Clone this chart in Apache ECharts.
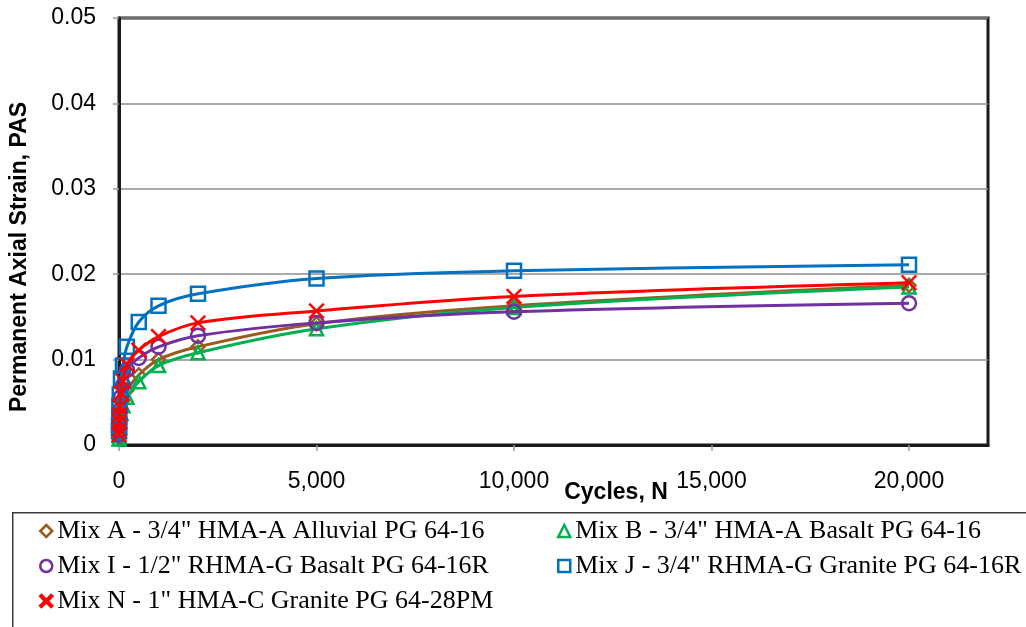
<!DOCTYPE html>
<html>
<head>
<meta charset="utf-8">
<title>Permanent Axial Strain vs Cycles</title>
<script src="https://cdn.jsdelivr.net/npm/echarts@6/dist/echarts.min.js"></script>
<style>
  html, body { margin: 0; padding: 0; background: #ffffff; }
  #chart { width: 1026px; height: 627px; }
</style>
</head>
<body>
<div id="chart"></div>
<script>
// Load cycles N and permanent axial strain for each mix
const cycles = [1, 2, 5, 10, 20, 50, 100, 200, 500, 1000, 2000, 5000, 10000, 20000];
const mixA = [0.0008, 0.0012, 0.0018, 0.0024, 0.0031, 0.0042, 0.0052, 0.0064, 0.0082, 0.0100, 0.0115, 0.0142, 0.0163, 0.0187];
const mixB = [0.0007, 0.0011, 0.0016, 0.0021, 0.0028, 0.0037, 0.0046, 0.0056, 0.0074, 0.0093, 0.0108, 0.0136, 0.0161, 0.0185];
const mixI = [0.0012, 0.0017, 0.0025, 0.0032, 0.0041, 0.0056, 0.0070, 0.0088, 0.0102, 0.0115, 0.0128, 0.0143, 0.0156, 0.0166];
const mixJ = [0.0016, 0.0023, 0.0035, 0.0046, 0.0059, 0.0078, 0.0093, 0.0115, 0.0144, 0.0163, 0.0177, 0.0195, 0.0204, 0.0211];
const mixN = [0.0012, 0.0018, 0.0027, 0.0035, 0.0045, 0.0061, 0.0075, 0.0094, 0.0111, 0.0127, 0.0143, 0.0157, 0.0174, 0.0190];

const seriesNames = [
  'Mix A - 3/4" HMA-A Alluvial PG 64-16',
  'Mix B - 3/4" HMA-A Basalt PG 64-16',
  'Mix I - 1/2" RHMA-G Basalt PG 64-16R',
  'Mix J - 3/4" RHMA-G Granite PG 64-16R',
  'Mix N - 1" HMA-C Granite PG 64-28PM'
];
const yTicks = [0, 0.01, 0.02, 0.03, 0.04, 0.05];
const xTicks = [0, 5000, 10000, 15000, 20000];

// thin-armed cross marker
const xMark = 'path://M1,0 L5,4 L9,0 L10,1 L6,5 L10,9 L9,10 L5,6 L1,10 L0,9 L4,5 L0,1 Z';

const styles = [
  { color: '#9E5A1E', symbol: 'diamond', size: 13, hollow: true },
  { color: '#00B050', symbol: 'triangle', size: 13, hollow: true },
  { color: '#7030A0', symbol: 'circle', size: 14, hollow: true },
  { color: '#0070C0', symbol: 'rect', size: 14, hollow: true },
  { color: '#FF0000', symbol: xMark, size: 16, hollow: false }
];
const values = [mixA, mixB, mixI, mixJ, mixN];

const pairs = v => cycles.map((c, i) => [c, v[i]]);

const series = values.map((v, k) => {
  const s = styles[k];
  return {
    name: seriesNames[k],
    type: 'line',
    data: pairs(v),
    smooth: 0.35,
    symbol: s.symbol,
    symbolSize: s.size,
    showAllSymbol: true,
    lineStyle: { color: s.color, width: 3 },
    itemStyle: s.hollow
      ? { color: 'rgba(255,255,255,0)', borderColor: s.color, borderWidth: 2.5 }
      : { color: s.color, borderColor: s.color, borderWidth: 0.3 },
    emphasis: { disabled: true },
    z: 2 + k
  };
});

const legendText = {
  fontFamily: '"Liberation Serif", "Times New Roman", serif',
  fontSize: 26,
  lineHeight: 26,
  color: '#000'
};
const legendItem = k => ({ name: seriesNames[k], icon: styles[k].symbol });

const chart = echarts.init(document.getElementById('chart'), null, { renderer: 'canvas' });
chart.setOption({
  animation: false,
  backgroundColor: '#ffffff',
  grid: {
    left: 119, right: 38, top: 18, bottom: 182,
    show: true, borderColor: '#1a1a1a', borderWidth: 3, backgroundColor: 'transparent'
  },
  xAxis: {
    type: 'value',
    min: 0, max: 22000, interval: 5000,
    axisLine: { show: true, lineStyle: { color: '#1a1a1a', width: 3 } },
    axisTick: { show: true, inside: false, length: 6, lineStyle: { color: '#999', width: 1.5 } },
    splitLine: { show: false },
    axisLabel: {
      margin: 25,
      fontFamily: '"Liberation Sans", Arial, sans-serif',
      fontSize: 23,
      color: '#000',
      showMaxLabel: false,
      formatter: val => xTicks.includes(val) ? val.toLocaleString('en-US') : ''
    }
  },
  yAxis: {
    type: 'value',
    min: 0, max: 0.05, interval: 0.01,
    axisLine: { show: true, lineStyle: { color: '#1a1a1a', width: 3 } },
    axisTick: { show: true, inside: false, length: 6, lineStyle: { color: '#999', width: 1.5 } },
    splitLine: { show: true, lineStyle: { color: '#8c8c8c', width: 1.5 } },
    axisLabel: {
      margin: 23,
      fontFamily: '"Liberation Sans", Arial, sans-serif',
      fontSize: 23,
      color: '#000',
      formatter: val => {
        const t = yTicks.find(y => Math.abs(y - val) < 1e-9);
        if (t === undefined) return '';
        return t === 0 ? '0' : t.toFixed(2);
      }
    }
  },
  legend: [
    {
      orient: 'vertical', left: 39, top: 518, itemGap: 9, padding: 0,
      itemWidth: 12, itemHeight: 12,
      textStyle: legendText,
      itemStyle: { borderWidth: 2.5 },
      selectedMode: false,
      data: [legendItem(0), legendItem(2), legendItem(4)]
    },
    {
      orient: 'vertical', left: 557, top: 518, itemGap: 9, padding: 0,
      itemWidth: 12, itemHeight: 12,
      textStyle: legendText,
      itemStyle: { borderWidth: 2.5 },
      selectedMode: false,
      data: [legendItem(1), legendItem(3)]
    }
  ],
  graphic: [
    {
      type: 'rect', left: 12, top: 512, z: -1,
      shape: { width: 1030, height: 130 },
      style: { fill: '#fff', stroke: '#3a3a3a', lineWidth: 1.5 }
    },
    {
      type: 'text', x: 20, y: 257, rotation: Math.PI / 2,
      style: {
        text: 'Permanent Axial Strain, PAS',
        fontFamily: '"Liberation Sans", Arial, sans-serif',
        fontWeight: 'bold', fontSize: 23, fill: '#000',
        textAlign: 'center', textVerticalAlign: 'middle'
      }
    },
    {
      type: 'text', x: 616, y: 493,
      style: {
        text: 'Cycles, N',
        fontFamily: '"Liberation Sans", Arial, sans-serif',
        fontWeight: 'bold', fontSize: 23, fill: '#000',
        textAlign: 'center', textVerticalAlign: 'middle'
      }
    }
  ],
  series: series
});
</script>
</body>
</html>
